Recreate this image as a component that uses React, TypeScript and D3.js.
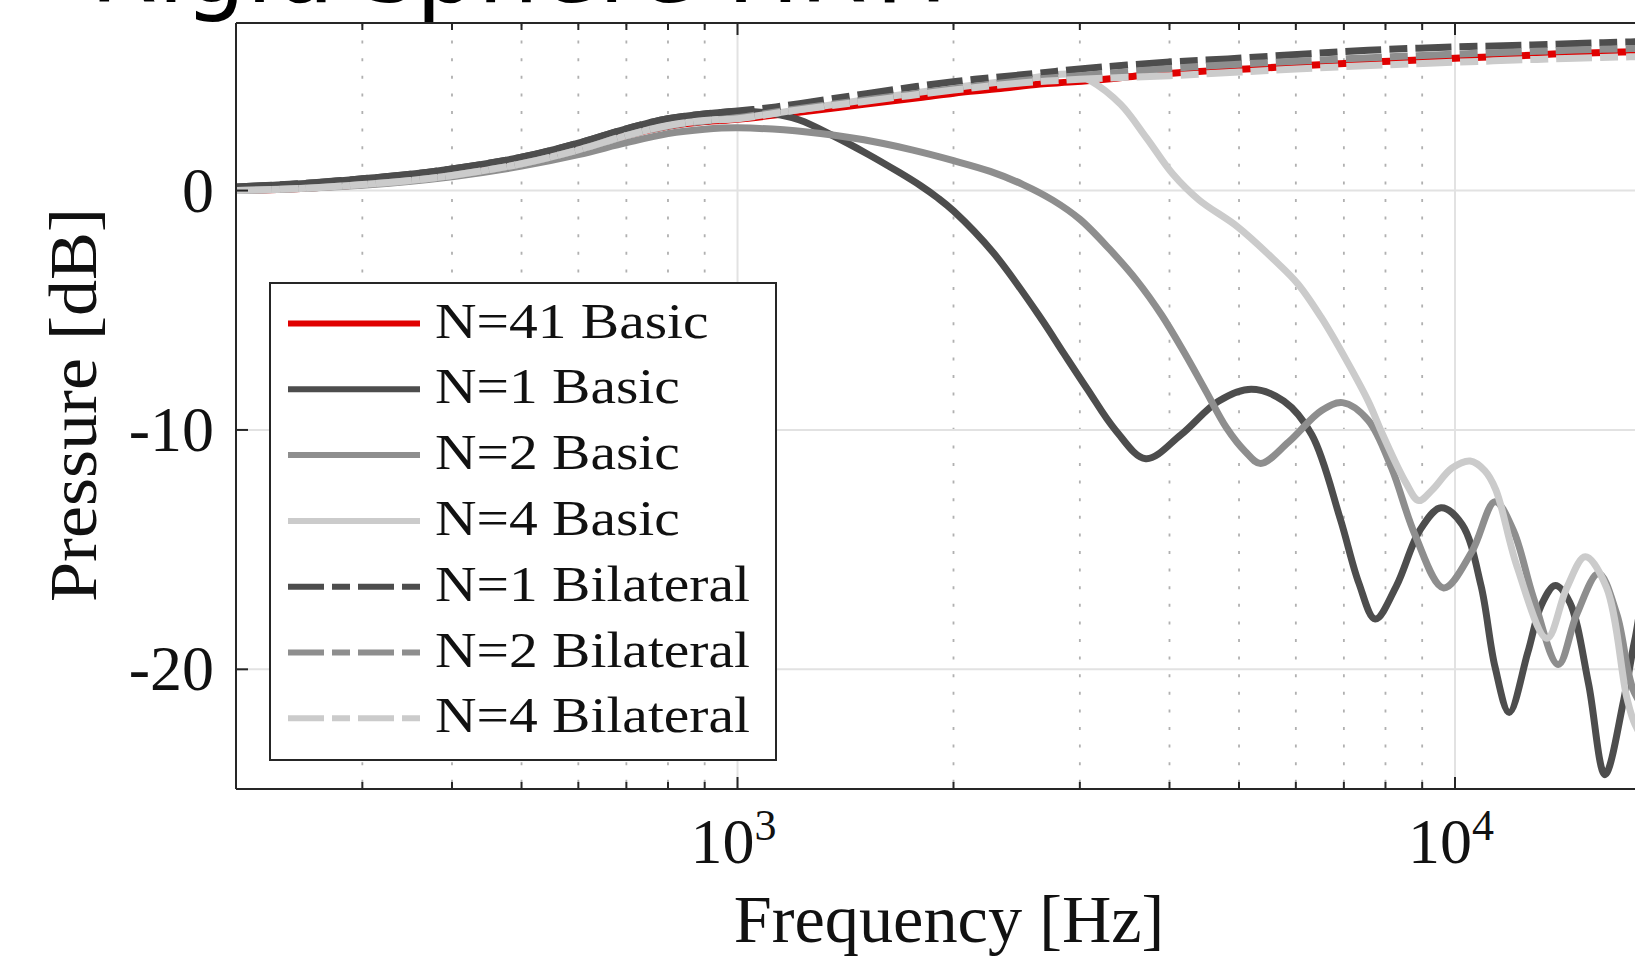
import React from "react";
import * as d3 from "d3";

// ---------- data ----------
const seriesNames = [
  "N=41 Basic",
  "N=1 Basic",
  "N=2 Basic",
  "N=4 Basic",
  "N=1 Bilateral",
  "N=2 Bilateral",
  "N=4 Bilateral",
];

const n41Freq = [200, 250, 300, 350, 400, 500, 600, 700, 800, 900, 1000, 1200, 1500, 1810, 2110, 2300, 2640, 2900, 3310, 3625, 4150, 4540, 5200, 5700, 6900, 7570, 8740, 9480, 10900, 11900, 13700, 14900, 17100, 20000];
const n41Db = [0, 0.1, 0.25, 0.42, 0.63, 1.12, 1.7, 2.3, 2.68, 2.88, 2.98, 3.25, 3.6, 3.9, 4.15, 4.25, 4.45, 4.53, 4.67, 4.8, 4.93, 5.0, 5.09, 5.16, 5.3, 5.37, 5.44, 5.5, 5.57, 5.61, 5.7, 5.74, 5.79, 5.83];

const n1BasicFreq = [200, 250, 300, 350, 400, 500, 600, 700, 800, 900, 1000, 1100, 1220, 1357, 1513, 1682, 1800, 1900, 2000, 2273, 2643, 2849, 3074, 3362, 3707, 4150, 4680, 5200, 5774, 6315, 6917, 7345, 7741, 8290, 8930, 9560, 10230, 10870, 11370, 11900, 12630, 13200, 13800, 14450, 15350, 16180, 17180, 17800, 18600, 19300, 20000];
const n1BasicDb = [0.15, 0.3, 0.49, 0.68, 0.9, 1.39, 1.98, 2.58, 3.0, 3.2, 3.3, 3.25, 2.95, 2.3, 1.55, 0.75, 0.2, -0.3, -0.85, -2.6, -5.3, -6.8, -8.3, -10.0, -11.2, -10.2, -8.8, -8.3, -8.8, -10.2, -13.7, -16.4, -17.9, -16.5, -14.2, -13.25, -13.95, -16.5, -19.9, -21.8, -19.3, -17.3, -16.5, -17.2, -20.6, -24.4, -21.3, -18.8, -16.5, -16.8, -19];

const n2BasicFreq = [200, 250, 300, 400, 500, 600, 700, 800, 900, 1000, 1250, 1500, 1750, 2000, 2250, 2500, 2750, 3000, 3300, 3600, 3900, 4200, 4500, 4800, 5100, 5360, 5865, 6510, 6970, 7570, 8160, 8800, 9640, 10550, 11370, 12060, 12860, 13930, 14780, 15850, 16810, 17800, 19000, 20000];
const n2BasicDb = [0, 0.1, 0.22, 0.58, 1.02, 1.5, 2.0, 2.38, 2.56, 2.62, 2.45, 2.12, 1.7, 1.25, 0.8, 0.25, -0.4, -1.2, -2.45, -3.75, -5.2, -6.8, -8.4, -9.9, -10.9, -11.4, -10.5, -9.2, -8.86, -9.6, -11.6, -14.4, -16.6, -15.1, -13.0, -14.2, -17.0, -19.8, -17.7, -16.0, -17.7, -21, -22, -20];

const n4BasicFreq = [200, 250, 300, 350, 400, 500, 600, 700, 800, 900, 1000, 1200, 1500, 2000, 2500, 2800, 2950, 3100, 3420, 3715, 4040, 4400, 4970, 5600, 6040, 6510, 7030, 7570, 7930, 8540, 8900, 9300, 9900, 10500, 11000, 11400, 12200, 13430, 14310, 15190, 16270, 17360, 17820, 18500, 20000];
const n4BasicDb = [0, 0.1, 0.25, 0.42, 0.63, 1.12, 1.7, 2.3, 2.72, 2.93, 3.02, 3.35, 3.78, 4.3, 4.65, 4.85, 4.85, 4.6, 3.6, 2.2, 0.7, -0.4, -1.5, -2.9, -3.9, -5.3, -7.0, -8.8, -10.2, -12.2, -12.95, -12.5, -11.6, -11.3, -11.7, -12.5, -15.7, -18.7, -16.6, -15.3, -16.6, -21.2, -22.3, -23, -20];

const n1BilFreq = [200, 250, 300, 350, 400, 500, 600, 700, 800, 900, 1000, 1100, 1220, 1513, 2000, 2580, 3000, 4000, 4820, 6280, 7570, 10000, 12800, 16100, 20000];
const n1BilDb = [0.15, 0.3, 0.49, 0.68, 0.9, 1.39, 1.98, 2.58, 3.0, 3.2, 3.32, 3.45, 3.63, 4.05, 4.55, 4.88, 5.08, 5.37, 5.5, 5.72, 5.86, 6.0, 6.08, 6.18, 6.25];

const n2BilFreq = [200, 250, 300, 350, 400, 500, 600, 700, 800, 900, 1000, 1200, 1500, 2000, 2500, 3000, 4000, 5000, 6000, 8000, 10000, 13000, 16000, 20000];
const n2BilDb = [0, 0.1, 0.25, 0.42, 0.63, 1.12, 1.7, 2.3, 2.7, 2.9, 3.05, 3.4, 3.78, 4.25, 4.6, 4.8, 5.1, 5.28, 5.4, 5.58, 5.7, 5.82, 5.9, 5.97];

const n4BilFreq = [200, 250, 300, 350, 400, 500, 600, 700, 800, 900, 1000, 1200, 1500, 2000, 2500, 3000, 4000, 5000, 6000, 8000, 10000, 13000, 16000, 20000];
const n4BilDb = [0, 0.1, 0.25, 0.42, 0.63, 1.12, 1.7, 2.3, 2.72, 2.93, 3.0, 3.35, 3.72, 4.2, 4.5, 4.65, 4.8, 4.95, 5.08, 5.25, 5.36, 5.48, 5.56, 5.62];

const xMajorTicks = [1000, 10000];
const xMajorExponents = ["3", "4"];
const xMinorTicks = [300, 400, 500, 600, 700, 800, 900, 2000, 3000, 4000, 5000, 6000, 7000, 8000, 9000];
const yTicks = [0, -10, -20];
const yTickLabels = ["0", "-10", "-20"];

const titleText = "Rigid sphere HRTF";
const xLabel = "Frequency [Hz]";
const yLabel = "Pressure [dB]";

// ---------- styles ----------
const DARK = "#4d4d4d";
const MID = "#8e8e8e";
const LIGHT = "#cbcbcb";
const RED = "#e00000";
const DASH = "36 8 18 8";

const seriesStyles = [
  { color: RED, dash: null },
  { color: DARK, dash: null },
  { color: MID, dash: null },
  { color: LIGHT, dash: null },
  { color: DARK, dash: DASH },
  { color: MID, dash: DASH },
  { color: LIGHT, dash: DASH },
];
const seriesData = [
  [n41Freq, n41Db],
  [n1BasicFreq, n1BasicDb],
  [n2BasicFreq, n2BasicDb],
  [n4BasicFreq, n4BasicDb],
  [n1BilFreq, n1BilDb],
  [n2BilFreq, n2BilDb],
  [n4BilFreq, n4BilDb],
];

const SERIF = "'Liberation Serif', 'Times New Roman', serif";

export default function App() {
  const W = 1635;
  const H = 958;
  const left = 236;
  const right = 1671;
  const top = 23;
  const bottom = 789;

  const x = d3.scaleLog().domain([200, 20000]).range([left, right]);
  const y = d3.scaleLinear().domain([-25, 7]).range([bottom, top]);

  const line = d3
    .line<[number, number]>()
    .x((d) => x(d[0]))
    .y((d) => y(d[1]))
    .curve(d3.curveCatmullRom.alpha(0.5));

  const series = seriesNames.map((name, i) => {
    const [f, v] = seriesData[i];
    const pts: [number, number][] = f.map((ff, k) => [ff, v[k]]);
    return { name, pts, ...seriesStyles[i] };
  });

  const axisColor = "#262626";
  const legX = 270;
  const legY = 283;
  const legW = 506;
  const legH = 477;
  const rowY0 = 323.5;
  const rowStep = 65.8;

  return (
    <div>
      <style>{`html,body{margin:0;padding:0;overflow:hidden;background:#fff}`}</style>
      <svg width={W} height={H} style={{ display: "block" }}>
        <defs>
          <clipPath id="plotClip">
            <rect x={left} y={top} width={right - left} height={bottom - top} />
          </clipPath>
        </defs>
        <rect x={0} y={0} width={W} height={H} fill="#fff" />

        {/* title (cut off at top, as in the source) */}
        <text
          x={90}
          y={2}
          fontFamily="'DejaVu Sans', sans-serif"
          fontSize={97}
          fill="#000"
        >
          {titleText}
        </text>

        {/* grid */}
        <g>
          {xMinorTicks.map((t) => (
            <line
              key={"mg" + t}
              x1={x(t)}
              x2={x(t)}
              y1={top}
              y2={bottom}
              stroke="#b0b0b0"
              strokeWidth={1.8}
              strokeDasharray="3 14.6"
            />
          ))}
          {xMajorTicks.map((t) => (
            <line
              key={"Mg" + t}
              x1={x(t)}
              x2={x(t)}
              y1={top}
              y2={bottom}
              stroke="#e2e2e2"
              strokeWidth={2}
            />
          ))}
          {yTicks.map((t) => (
            <line
              key={"yg" + t}
              x1={left}
              x2={right}
              y1={y(t)}
              y2={y(t)}
              stroke="#e2e2e2"
              strokeWidth={2}
            />
          ))}
        </g>

        {/* curves */}
        <g clipPath="url(#plotClip)">
          {series.map((s) => (
            <path
              key={s.name}
              d={line(s.pts) || ""}
              fill="none"
              stroke={s.color}
              strokeWidth={7}
              strokeDasharray={s.dash || undefined}
              strokeLinejoin="round"
            />
          ))}
        </g>

        {/* axes box */}
        <g stroke={axisColor} strokeWidth={2} fill="none">
          <line x1={left} x2={left} y1={top} y2={bottom} />
          <line x1={left} x2={right} y1={top} y2={top} />
          <line x1={left} x2={right} y1={bottom} y2={bottom} />
          {xMajorTicks.map((t) => (
            <g key={"mt" + t}>
              <line x1={x(t)} x2={x(t)} y1={bottom} y2={bottom - 12} />
              <line x1={x(t)} x2={x(t)} y1={top} y2={top + 12} />
            </g>
          ))}
          {xMinorTicks.map((t) => (
            <g key={"nt" + t}>
              <line x1={x(t)} x2={x(t)} y1={bottom} y2={bottom - 7} />
              <line x1={x(t)} x2={x(t)} y1={top} y2={top + 7} />
            </g>
          ))}
          {yTicks.map((t) => (
            <line key={"yt" + t} x1={left} x2={left + 12} y1={y(t)} y2={y(t)} />
          ))}
        </g>

        {/* tick labels */}
        <g fontFamily={SERIF} fill="#111">
          {yTicks.map((t, i) => (
            <text
              key={"yl" + t}
              x={214}
              y={y(t) + 21}
              fontSize={64}
              textAnchor="end"
            >
              {yTickLabels[i]}
            </text>
          ))}
          {xMajorTicks.map((t, i) => (
            <text
              key={"xl" + t}
              x={x(t) - 4}
              y={863}
              fontSize={64}
              textAnchor="middle"
            >
              10
              <tspan fontSize={44} dy={-23}>
                {xMajorExponents[i]}
              </tspan>
            </text>
          ))}
          <text
            transform={`translate(949,942) scale(1.02,1)`}
            fontSize={67}
            textAnchor="middle"
          >
            {xLabel}
          </text>
          <text
            transform={`translate(96,405) rotate(-90) scale(1.06,1)`}
            fontSize={68}
            textAnchor="middle"
          >
            {yLabel}
          </text>
        </g>

        {/* legend */}
        <g>
          <rect
            x={legX}
            y={legY}
            width={legW}
            height={legH}
            fill="#fff"
            stroke={axisColor}
            strokeWidth={2}
          />
          {series.map((s, i) => {
            const ry = rowY0 + i * rowStep;
            return (
              <g key={"lg" + s.name}>
                <line
                  x1={288}
                  x2={420}
                  y1={ry}
                  y2={ry}
                  stroke={s.color}
                  strokeWidth={6}
                  strokeDasharray={s.dash || undefined}
                />
                <text
                  transform={`translate(435,${ry + 14}) scale(1.15,1)`}
                  fontFamily={SERIF}
                  fontSize={50}
                  fill="#111"
                >
                  {s.name}
                </text>
              </g>
            );
          })}
        </g>
      </svg>
    </div>
  );
}
